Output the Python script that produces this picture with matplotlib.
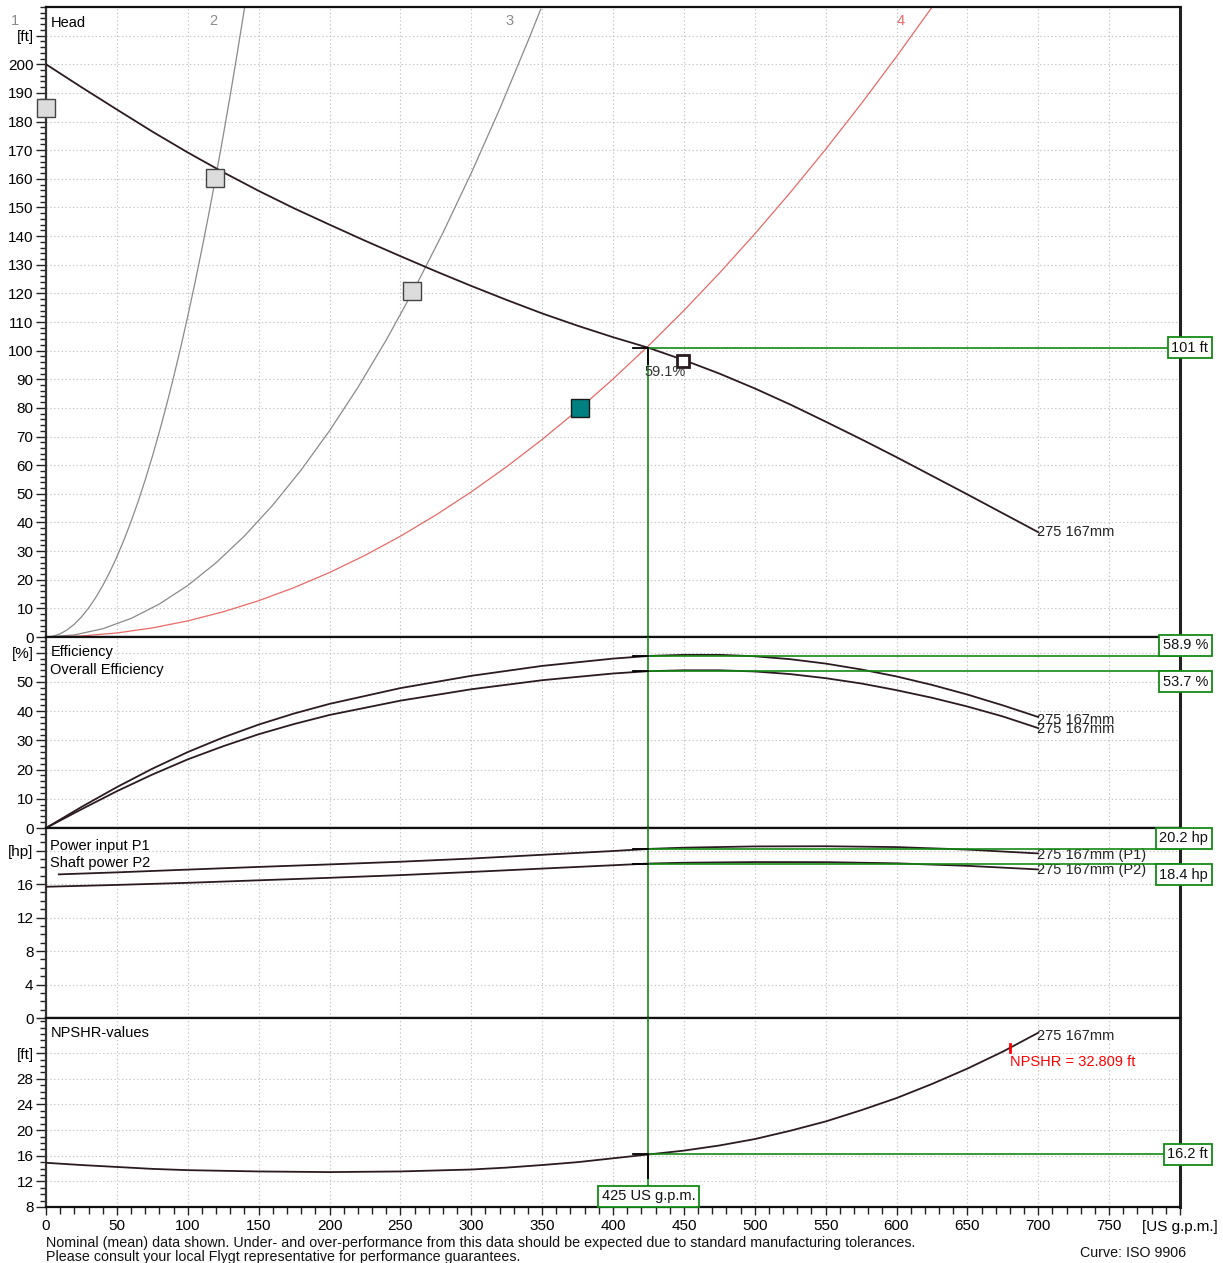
import matplotlib
matplotlib.use("Agg")
import matplotlib.pyplot as plt
import matplotlib.transforms as mtrans
from matplotlib.ticker import MultipleLocator, FixedLocator

plt.rcParams['font.family'] = ['Liberation Sans', 'DejaVu Sans']
plt.rcParams['font.size'] = 10.5

# ---------------- data ----------------
head_q = [0, 25, 50, 75, 100, 125, 150, 175, 200, 225, 250, 275, 300, 325, 350, 375, 400,
          425, 450, 475, 500, 525, 550, 575, 600, 625, 650, 675, 700]
head_h = [200, 192, 184.2, 176.5, 169.2, 162.3, 155.8, 149.7, 144, 138.4, 133, 127.7, 122.6,
          117.7, 113, 108.7, 104.7, 101, 96.7, 92, 86.8, 81.2, 75.2, 69.1, 62.8, 56.3, 49.8,
          43.2, 36.6]

sys2_q = [0, 5, 10, 15, 20, 25, 30, 35, 40, 45, 50, 55, 60, 65, 70, 75, 80, 85, 90, 95,
          100, 105, 110, 115, 120, 125, 130, 135, 140]
sys2_h = [0, 0.28, 1.12, 2.52, 4.48, 7.0, 10.08, 13.72, 17.92, 22.68, 28.0, 33.88, 40.32,
          47.32, 54.88, 63.0, 71.68, 80.92, 90.72, 101.08, 112.0, 123.48, 135.52, 148.12,
          161.28, 175.0, 189.28, 204.12, 219.52]
sys3_q = [0, 20, 40, 60, 80, 100, 120, 140, 160, 180, 200, 220, 240, 260, 280, 300, 320, 340, 349]
sys3_h = [0, 0.72, 2.88, 6.48, 11.52, 18, 25.92, 35.28, 46.08, 58.32, 72, 87.12, 103.68,
          121.68, 141.12, 162, 184.32, 208.08, 219.2]
sys4_q = [0, 25, 50, 75, 100, 125, 150, 175, 200, 225, 250, 275, 300, 325, 350, 375, 400,
          425, 450, 475, 500, 525, 550, 575, 600, 625]
sys4_h = [0, 0.35, 1.41, 3.17, 5.63, 8.8, 12.67, 17.24, 22.52, 28.5, 35.19, 42.58, 50.67,
          59.47, 68.97, 79.17, 90.08, 101.69, 114.0, 127.03, 140.75, 155.18, 170.3, 186.14,
          202.68, 219.9]

sys_labels = ['1', '2', '3', '4']
sys_label_q = [-22, 118, 327, 603]

eff_q = [0, 25, 50, 75, 100, 125, 150, 175, 200, 250, 300, 350, 400, 425, 450, 475, 500,
         525, 550, 575, 600, 625, 650, 675, 700]
eff_pump = [0, 7.2, 14.0, 20.3, 26.0, 31.0, 35.4, 39.2, 42.5, 47.9, 52.1, 55.5, 58.0, 58.9,
            59.3, 59.3, 58.8, 57.8, 56.3, 54.3, 51.9, 49.0, 45.7, 42.0, 38.0]
eff_total = [0, 6.4, 12.6, 18.3, 23.5, 28.0, 32.1, 35.6, 38.7, 43.6, 47.5, 50.6, 52.9, 53.7,
             54.0, 54.0, 53.6, 52.7, 51.3, 49.5, 47.2, 44.6, 41.6, 38.2, 34.2]

p1_q = [9, 50, 100, 150, 200, 250, 300, 350, 400, 425, 450, 500, 550, 600, 650, 700]
p1_hp = [17.16, 17.4, 17.73, 18.05, 18.35, 18.67, 19.05, 19.5, 19.95, 20.2, 20.35, 20.5,
         20.52, 20.42, 20.12, 19.66]
p2_q = [0, 50, 100, 150, 200, 250, 300, 350, 400, 425, 450, 500, 550, 600, 650, 700]
p2_hp = [15.68, 15.9, 16.15, 16.45, 16.75, 17.07, 17.45, 17.85, 18.25, 18.45, 18.55, 18.63,
         18.62, 18.48, 18.18, 17.75]

npsh_q = [0, 25, 50, 75, 100, 150, 200, 250, 300, 325, 350, 375, 400, 425, 450, 475, 500,
          525, 550, 575, 600, 625, 650, 675, 700]
npsh_ft = [14.9, 14.55, 14.25, 13.95, 13.75, 13.55, 13.45, 13.55, 13.85, 14.15, 14.55, 15.0,
           15.6, 16.2, 16.8, 17.6, 18.6, 19.9, 21.35, 23.1, 25.0, 27.2, 29.6, 32.25, 35.2]

grey_marker_q = [0, 119, 258]
grey_marker_h = [184.6, 160.2, 121]
teal_marker = (377, 80)
white_marker = (449.5, 96.3)

duty_q = 425
duty_head = 101
duty_eff = 58.9
duty_eff_total = 53.7
duty_p1 = 20.2
duty_p2 = 18.4
duty_npsh = 16.2
duty_eff_text = '59.1%'
npshr_mark = (680, 32.809)

x_ticks = [0, 50, 100, 150, 200, 250, 300, 350, 400, 450, 500, 550, 600, 650, 700, 750, 800]
x_ticklabels = ['0', '50', '100', '150', '200', '250', '300', '350', '400', '450', '500',
                '550', '600', '650', '700', '750', '[US g.p.m.]']
head_ticks = list(range(0, 211, 10))
head_ticklabels = [str(v) for v in range(0, 201, 10)] + ['[ft]']
eff_ticks = [0, 10, 20, 30, 40, 50, 60]
eff_ticklabels = ['0', '10', '20', '30', '40', '50', '[%]']
pow_ticks = [0, 4, 8, 12, 16, 20]
pow_ticklabels = ['0', '4', '8', '12', '16', '[hp]']
npsh_ticks = [8, 12, 16, 20, 24, 28, 32]
npsh_ticklabels = ['8', '12', '16', '20', '24', '28', '[ft]']

# ---------------- styles ----------------
CURVE = '#2b1b1f'
GREEN = '#148a14'
GRID = '#c4c4c4'
W, H = 1223, 1263

fig = plt.figure(figsize=(W / 100, H / 100), dpi=100)


def rect(top, bottom, left=46, right=1180):
    return [left / W, 1 - bottom / H, (right - left) / W, (bottom - top) / H]


ax_h = fig.add_axes(rect(7, 637))
ax_e = fig.add_axes(rect(637, 828))
ax_p = fig.add_axes(rect(828, 1018))
ax_n = fig.add_axes(rect(1018, 1207))

ax_h.set_ylim(0, 220)
ax_e.set_ylim(0, 65.4)
ax_p.set_ylim(0, 22.7)
ax_n.set_ylim(8, 37.5)

setup = [
    (ax_h, head_ticks, head_ticklabels, 2),
    (ax_e, eff_ticks, eff_ticklabels, 2),
    (ax_p, pow_ticks, pow_ticklabels, 1),
    (ax_n, npsh_ticks, npsh_ticklabels, 1),
]
for ax, yt, yl, minor in setup:
    ax.set_xlim(0, 800)
    ax.yaxis.set_major_locator(FixedLocator(yt))
    ax.set_yticklabels(yl)
    ax.yaxis.set_minor_locator(MultipleLocator(minor))
    ax.xaxis.set_major_locator(FixedLocator(x_ticks))
    ax.xaxis.set_minor_locator(MultipleLocator(10))
    ax.tick_params(axis='y', which='major', direction='out', length=7, width=1,
                   labelsize=11, pad=2, color='#222')
    ax.tick_params(axis='y', which='minor', direction='out', length=4.5, width=1, color='#222')
    ax.grid(True, which='major', color=GRID, linestyle=(0, (1.2, 2.2)), linewidth=0.8)
    ax.set_axisbelow(True)
    for s in ['top', 'bottom']:
        ax.spines[s].set_linewidth(1.6)
        ax.spines[s].set_color('#111')
    ax.spines['left'].set_linewidth(1.6)
    ax.spines['left'].set_color('#333')
    ax.spines['right'].set_linewidth(2.2)
    ax.spines['right'].set_color('#222')
    if ax is not ax_n:
        ax.tick_params(axis='x', which='both', bottom=False, labelbottom=False)

ax_n.set_xticklabels(x_ticklabels)
ax_n.tick_params(axis='x', which='major', direction='out', length=6, width=1,
                 labelsize=11, pad=3, color='#222')
ax_n.tick_params(axis='x', which='minor', direction='out', length=5, width=1, color='#222')

# ---------------- head panel ----------------
ax_h.plot(sys2_q, sys2_h, color='#8a8a8a', lw=0.9, zorder=2)
ax_h.plot(sys3_q, sys3_h, color='#8a8a8a', lw=0.9, zorder=2)
ax_h.plot(sys4_q, sys4_h, color='#e86a68', lw=0.9, zorder=2)
for lab, q in zip(sys_labels, sys_label_q):
    ax_h.text(q, 215, lab, color='#e86a68' if lab == '4' else '#8a8a8a',
              ha='center', va='center', fontsize=10.5, clip_on=False)
ax_h.plot(head_q, head_h, color=CURVE, lw=1.3, zorder=3)
ax_h.text(699, head_h[-1], '275 167mm', ha='left', va='center', color='#222')

ax_h.plot(grey_marker_q, grey_marker_h, linestyle='none', marker='s', ms=13,
          mfc='#dcdcdc', mec='#444', mew=1, zorder=5, clip_on=False)
ax_h.plot([teal_marker[0]], [teal_marker[1]], marker='s', ms=13, mfc='#008080',
          mec='#1a1a1a', mew=1, zorder=5)
ax_h.plot([white_marker[0]], [white_marker[1]], marker='s', ms=8.5, mfc='white',
          mec=CURVE, mew=2, zorder=6)
ax_h.text(422, 92.5, duty_eff_text, ha='left', va='center', color='#333', zorder=6)

ax_h.text(3, 214.5, 'Head', ha='left', va='center')
ax_e.text(3, 60.2, 'Efficiency', ha='left', va='center')
ax_e.text(3, 54, 'Overall Efficiency', ha='left', va='center')
ax_p.text(3, 20.6, 'Power input P1', ha='left', va='center')
ax_p.text(3, 18.5, 'Shaft power P2', ha='left', va='center')
ax_n.text(3, 35.2, 'NPSHR-values', ha='left', va='center')

# ---------------- efficiency panel ----------------
ax_e.plot(eff_q, eff_pump, color=CURVE, lw=1.3, zorder=3)
ax_e.plot(eff_q, eff_total, color=CURVE, lw=1.3, zorder=3)
ax_e.text(699, eff_pump[-1] - 1.0, '275 167mm', ha='left', va='center', color='#222')
ax_e.text(699, eff_total[-1] - 0.3, '275 167mm', ha='left', va='center', color='#222')

# ---------------- power panel ----------------
ax_p.plot(p1_q, p1_hp, color=CURVE, lw=1.3, zorder=3)
ax_p.plot(p2_q, p2_hp, color=CURVE, lw=1.3, zorder=3)
ax_p.text(699, p1_hp[-1] - 0.2, '275 167mm (P1)', ha='left', va='center', color='#222')
ax_p.text(699, p2_hp[-1] - 0.1, '275 167mm (P2)', ha='left', va='center', color='#222')

# ---------------- NPSH panel ----------------
ax_n.plot(npsh_q, npsh_ft, color=CURVE, lw=1.3, zorder=3)
ax_n.text(699, npsh_ft[-1] - 0.5, '275 167mm', ha='left', va='center', color='#222')
ax_n.plot([npshr_mark[0]] * 2, [npshr_mark[1] - 0.6, npshr_mark[1] + 0.6], color='red', lw=2, zorder=4)
ax_n.text(npshr_mark[0], npshr_mark[1] - 2.2, 'NPSHR = 32.809 ft', ha='left', va='center',
          color='red')

# ---------------- duty point lines ----------------
ax_h.plot([duty_q, duty_q], [0, duty_head], color=GREEN, lw=1.2, zorder=4)
for ax in (ax_e, ax_p, ax_n):
    ax.axvline(duty_q, color=GREEN, lw=1.2, zorder=4)


def green_box(ax, y, text, where):
    tr = mtrans.blended_transform_factory(ax.transAxes, ax.transData)
    ax.plot([duty_q, 800], [y, y], color=GREEN, lw=1.2, zorder=4, clip_on=False)
    ax.plot([duty_q - 11, duty_q], [y, y], color='black', lw=1.3, zorder=5)
    va = {'center': 'center', 'above': 'bottom', 'below': 'top'}[where]
    dy = {'center': 0, 'above': 2.6, 'below': -2.6}[where]
    ax.annotate(text, xy=(1.0248, y), xycoords=tr, xytext=(0, dy), textcoords='offset points',
                ha='right', va=va, fontsize=10.5, color='#111', annotation_clip=False, zorder=10,
                bbox=dict(boxstyle='square,pad=0.25', fc='white', ec=GREEN, lw=1.3))


green_box(ax_h, duty_head, '101 ft', 'center')
green_box(ax_e, duty_eff, '58.9 %', 'above')
green_box(ax_e, duty_eff_total, '53.7 %', 'below')
green_box(ax_p, duty_p1, '20.2 hp', 'above')
green_box(ax_p, duty_p2, '18.4 hp', 'below')
green_box(ax_n, duty_npsh, '16.2 ft', 'center')

ax_h.plot([duty_q, duty_q], [duty_head, duty_head - 5.5], color='black', lw=1.3, zorder=5)
ax_n.plot([duty_q, duty_q], [duty_npsh, duty_npsh - 3.6], color='black', lw=1.3, zorder=5)

trn = mtrans.blended_transform_factory(ax_n.transData, ax_n.transAxes)
ax_n.annotate('425 US g.p.m.', xy=(duty_q, 0), xycoords=trn, xytext=(0, 2.6),
              textcoords='offset points', ha='center', va='bottom', fontsize=10.5, color='#111',
              annotation_clip=False, zorder=10,
              bbox=dict(boxstyle='square,pad=0.25', fc='white', ec=GREEN, lw=1.3))

# ---------------- footer ----------------
fig.text(46 / W, 1 - 1243 / H, 'Nominal (mean) data shown. Under- and over-performance from this data '
         'should be expected due to standard manufacturing tolerances.',
         ha='left', va='center', fontsize=10.3, color='#111')
fig.text(46 / W, 1 - 1257 / H, 'Please consult your local Flygt representative for performance guarantees.',
         ha='left', va='center', fontsize=10.3, color='#111')
fig.text(1186 / W, 1 - 1253 / H, 'Curve: ISO 9906', ha='right', va='center', fontsize=10.3, color='#111')

fig.savefig('out.png', dpi=100, facecolor='white')
